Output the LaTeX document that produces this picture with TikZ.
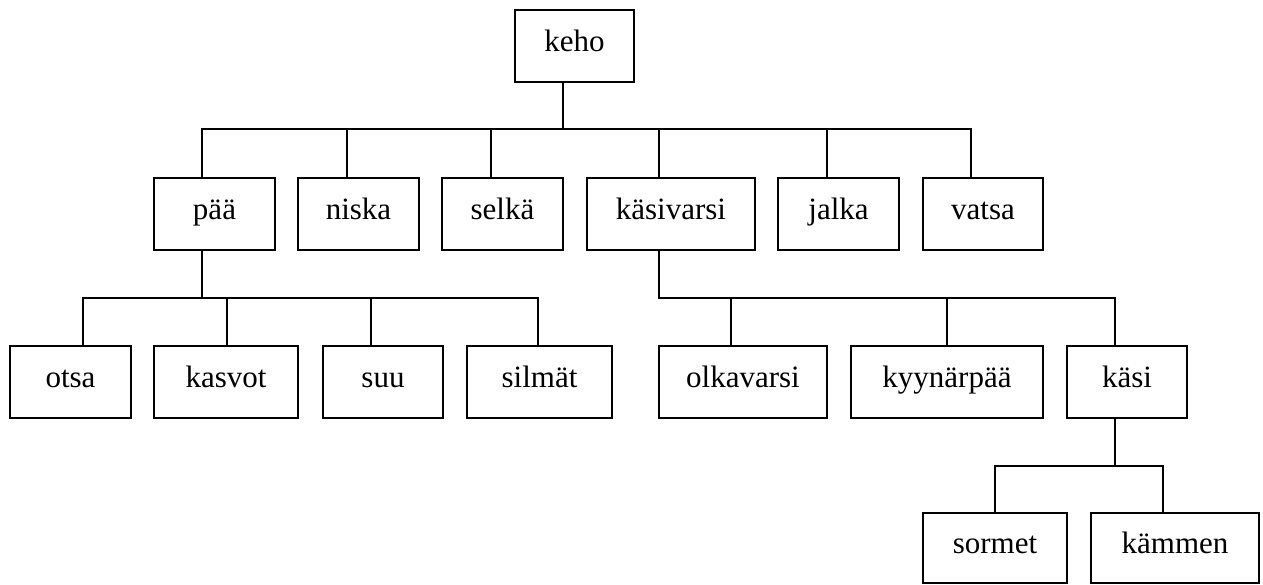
\documentclass[tikz,border=0pt]{standalone}
\usepackage{fontspec}
\setmainfont{Liberation Serif}
\begin{document}
\begin{tikzpicture}[x=1pt,y=-1pt,
  treebox/.style={draw, line width=1.6pt, rectangle, inner sep=0pt, outer sep=0pt,
    text height=15pt, text depth=5pt, font=\fontsize{31}{36}\selectfont},
  link/.style={line width=1.6pt}]
\useasboundingbox (0,0) rectangle (1263,584);

% top level
\node[treebox, minimum width=119pt, minimum height=72pt] (keho) at (574.5,46) {keho};

% second level
\node[treebox, minimum width=121pt, minimum height=72pt] (paa)   at (214.5,214) {pää};
\node[treebox, minimum width=121pt, minimum height=72pt] (niska) at (358.5,214) {niska};
\node[treebox, minimum width=121pt, minimum height=72pt] (selka) at (502.5,214) {selkä};
\node[treebox, minimum width=168pt, minimum height=72pt] (kasivarsi) at (671,214) {käsivarsi};
\node[treebox, minimum width=121pt, minimum height=72pt] (jalka) at (838.5,214) {jalka};
\node[treebox, minimum width=120pt, minimum height=72pt] (vatsa) at (983,214) {vatsa};

% third level
\node[treebox, minimum width=121pt, minimum height=72pt] (otsa)   at (70.5,382) {otsa};
\node[treebox, minimum width=144pt, minimum height=72pt] (kasvot) at (226,382) {kasvot};
\node[treebox, minimum width=120pt, minimum height=72pt] (suu)    at (383,382) {suu};
\node[treebox, minimum width=145pt, minimum height=72pt] (silmat) at (539.5,382) {silmät};
\node[treebox, minimum width=168pt, minimum height=72pt] (olkavarsi) at (743,382) {olkavarsi};
\node[treebox, minimum width=192pt, minimum height=72pt] (kyynarpaa) at (947,382) {kyynärpää};
\node[treebox, minimum width=120pt, minimum height=72pt] (kasi)   at (1127,382) {käsi};

% fourth level
\node[treebox, minimum width=144pt, minimum height=70pt] (sormet) at (995,548) {sormet};
\node[treebox, minimum width=168pt, minimum height=70pt] (kammen) at (1175,548) {kämmen};

% keho -> second level
\draw[link] (keho.south -| 563,0) -- (563,129);
\draw[link] (paa.north -| 202,0) |- (971,129) -- (vatsa.north -| 971,0);
\draw[link] (niska.north -| 347,0) -- (347,129);
\draw[link] (selka.north -| 491,0) -- (491,129);
\draw[link] (kasivarsi.north -| 659,0) -- (659,129);
\draw[link] (jalka.north -| 827,0) -- (827,129);

% pää -> third level
\draw[link] (paa.south -| 202,0) -- (202,298);
\draw[link] (otsa.north -| 83,0) |- (538,298) -- (silmat.north -| 538,0);
\draw[link] (kasvot.north -| 227,0) -- (227,298);
\draw[link] (suu.north -| 371,0) -- (371,298);

% käsivarsi -> third level
\draw[link] (kasivarsi.south -| 659,0) |- (1115,298) -- (kasi.north -| 1115,0);
\draw[link] (olkavarsi.north -| 731,0) -- (731,298);
\draw[link] (kyynarpaa.north -| 947,0) -- (947,298);

% käsi -> fourth level
\draw[link] (kasi.south -| 1115,0) -- (1115,466);
\draw[link] (sormet.north -| 995,0) |- (1163,466) -- (kammen.north -| 1163,0);
\end{tikzpicture}
\end{document}
